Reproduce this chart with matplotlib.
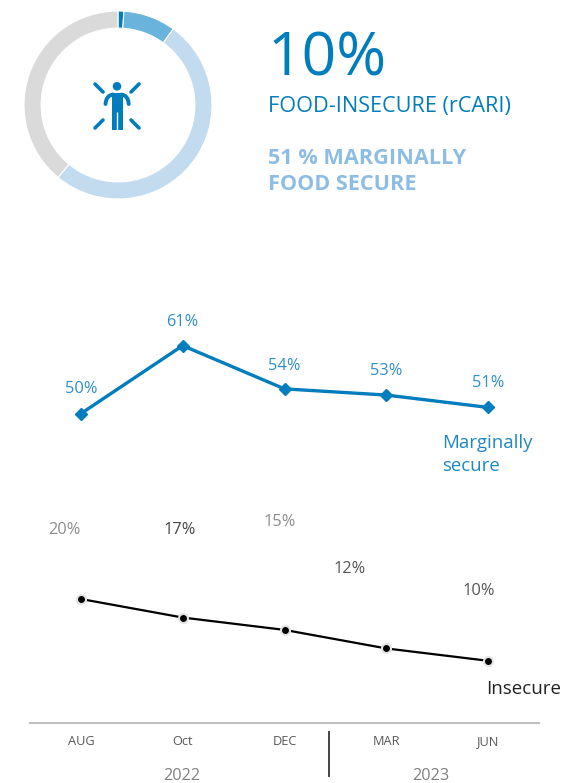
import matplotlib
matplotlib.use("Agg")
import matplotlib.pyplot as plt
from matplotlib.patches import Circle, PathPatch
from matplotlib.path import Path

plt.rcParams["font.family"] = ["Open Sans", "DejaVu Sans"]

BLUE = "#007DBC"
LIGHT_TEXT = "#8DBDE4"

# donut
donut_values = [1, 9, 51, 39]
donut_colors = [BLUE, "#69B3DC", "#C3DBEF", "#DADADA"]

# line chart
months = ["AUG", "Oct", "DEC", "MAR", "JUN"]
marginal = [50, 61, 54, 53, 51]
insecure = [20, 17, 15, 12, 10]

W, H = 562, 783
fig = plt.figure(figsize=(W / 100, H / 100), dpi=100)


def px_box(x0, y0, x1, y1):
    return [x0 / W, 1 - y1 / H, (x1 - x0) / W, (y1 - y0) / H]


# overlay in pixel coordinates for the icon and free text
ov = fig.add_axes([0, 0, 1, 1], zorder=3)
ov.set_xlim(0, W)
ov.set_ylim(H, 0)
ov.axis("off")

ax_d = fig.add_axes(px_box(24, 11, 212, 199))
ax_d.pie(donut_values, colors=donut_colors, startangle=90, counterclock=False,
         radius=1, wedgeprops=dict(width=0.182, edgecolor="white", linewidth=0.8))
ax_d.set_xlim(-1, 1)
ax_d.set_ylim(-1, 1)

# person icon
ov.add_patch(Circle((117, 86.3), 4.3, color=BLUE, lw=0))
ov.add_patch(PathPatch(Path([(111.7, 93), (122.5, 93), (122.5, 129.5), (111.7, 129.5), (111.7, 93)]),
                       color=BLUE, lw=0))
ov.plot([117.1, 117.1], [112, 131], color="white", lw=1.0, solid_capstyle="butt")
for xa, xb, xc in [(105.5, 106, 113), (128.7, 128.2, 121.5)]:
    arm = Path([(xa, 104), (xb, 95.5), (xc, 94.5)], [Path.MOVETO, Path.CURVE3, Path.CURVE3])
    ov.add_patch(PathPatch(arm, fc="none", ec=BLUE, lw=2.8, capstyle="round"))
for x0, y0, x1, y1 in [(95, 84, 103, 92), (139, 84, 131, 92),
                       (95, 128, 103, 120), (139, 128, 131, 120)]:
    ov.plot([x0, x1], [y0, y1], color=BLUE, lw=2.6, solid_capstyle="round")

# header text
ov.text(268, 76, "10%", color=BLUE, fontsize=43.5, ha="left", va="baseline")
ov.text(268, 112, "FOOD-INSECURE (rCARI)", color=BLUE, fontsize=15.6, ha="left", va="baseline")
ov.text(268, 164, "51 % MARGINALLY", color=LIGHT_TEXT, fontsize=15.6, fontweight="bold", ha="left", va="baseline")
ov.text(268, 190, "FOOD SECURE", color=LIGHT_TEXT, fontsize=15.6, fontweight="bold", ha="left", va="baseline")

# lines
ax = fig.add_axes(px_box(30, 290, 539, 722.6))
x = list(range(len(months)))
ax.plot(x, marginal, color=BLUE, lw=2.4, marker="D", ms=6, mec=BLUE, clip_on=False)
ax.plot(x, insecure, color="black", lw=1.6, marker="o", ms=6.5, mfc="black",
        mec="#E4E4E4", mew=1.5, clip_on=False)
ax.set_xlim(-0.5, 4.5)
ax.set_ylim(0, 70)
ax.set_yticks([])
ax.set_xticks(x, months)
ax.tick_params(axis="x", length=0, pad=9, labelsize=9.2, labelcolor="#595959")
for side in ["top", "left", "right"]:
    ax.spines[side].set_visible(False)
ax.spines["bottom"].set_color("#BFBFBF")
ax.spines["bottom"].set_linewidth(1.5)

# value labels sit at hand-placed offsets (pixels) from their points
marginal_off = [(0, 25), (0, 24), (0, 23), (0, 24), (0, 24)]
insecure_off = [(-16, 69), (-3, 88), (-5, 108), (-37, 79), (-9, 70)]
insecure_col = ["#8C8C8C", "#444444", "#8C8C8C", "#555555", "#555555"]

for i in x:
    dx, dy = marginal_off[i]
    ax.annotate(f"{marginal[i]}%", (i, marginal[i]), xytext=(dx * 0.72, dy * 0.72),
                textcoords="offset points", ha="center", va="center",
                color="#2E8FC7", fontsize=11.8)
    dx, dy = insecure_off[i]
    ax.annotate(f"{insecure[i]}%", (i, insecure[i]), xytext=(dx * 0.72, dy * 0.72),
                textcoords="offset points", ha="center", va="center",
                color=insecure_col[i], fontsize=11.8)

ov.text(442, 448, "Marginally", color="#1F87C3", fontsize=13.4, ha="left", va="baseline")
ov.text(442, 471, "secure", color="#1F87C3", fontsize=13.4, ha="left", va="baseline")
ov.text(486, 694, "Insecure", color="#222222", fontsize=13.5, ha="left", va="baseline")

# year split
ov.plot([329, 329], [732, 776], color="#444444", lw=1.4)
ov.text(182, 776, "2022", color="#808080", fontsize=11.7, ha="center", va="center")
ov.text(431, 776, "2023", color="#808080", fontsize=11.7, ha="center", va="center")

fig.savefig("out.png", dpi=100)
